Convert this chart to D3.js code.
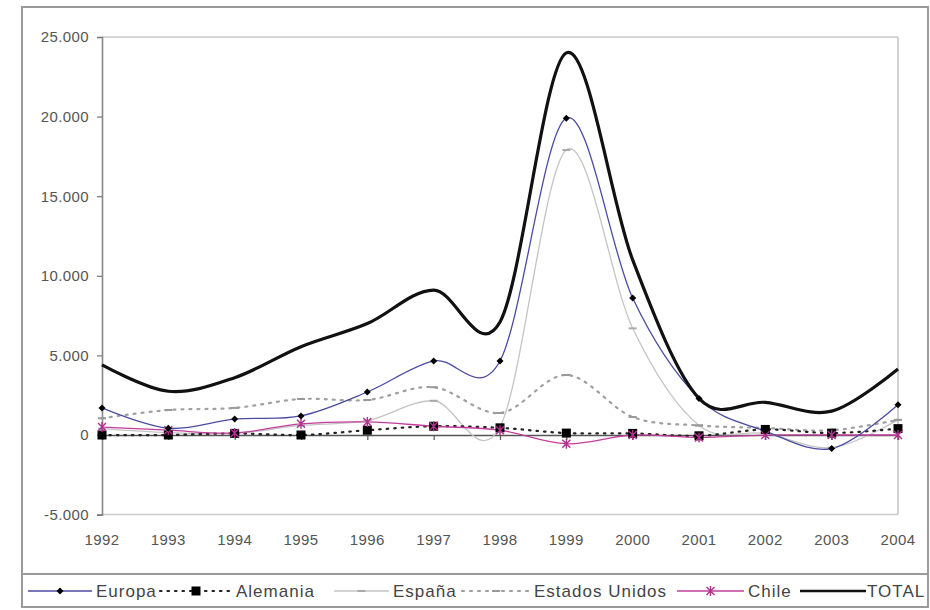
<!DOCTYPE html>
<html><head><meta charset="utf-8">
<script src="https://cdn.jsdelivr.net/npm/d3@7"></script>
<style>
html,body{margin:0;padding:0;background:#fff;}
svg{display:block;}
text{font-family:"Liberation Sans",Arial,sans-serif;}
</style></head>
<body>
<svg id="chart" width="930" height="610"></svg>
<script>
const years = [1992,1993,1994,1995,1996,1997,1998,1999,2000,2001,2002,2003,2004];
const europa   = [1700, 420, 1000, 1200, 2700, 4650, 4650, 19900, 8600, 2300, 250, -850, 1900];
const alemania = [0, 0, 100, 0, 300, 550, 450, 120, 100, -50, 350, 120, 400];
const espana   = [400, 150, 100, 600, 900, 2150, 500, 17900, 6700, 600, 100, -800, 950];
const eeuu     = [1050, 1570, 1700, 2260, 2200, 3000, 1380, 3770, 1130, 600, 440, 300, 950];
const chile    = [500, 300, 130, 700, 820, 550, 300, -550, 0, -150, 0, 0, 0];
const total    = [4400, 2750, 3600, 5550, 7000, 9100, 7100, 24000, 11000, 2300, 2050, 1500, 4150];
const yTicks   = [-5000, 0, 5000, 10000, 15000, 20000, 25000];
const seriesNames = ["Europa","Alemania","España","Estados Unidos","Chile","TOTAL"];

const series = [
  {name: seriesNames[0], values: europa,   color:"#4b4ba0", width:1.3, dash:null,  marker:"diamond", mcolor:"#000"},
  {name: seriesNames[1], values: alemania, color:"#222",    width:2.2, dash:"1.5,6", marker:"square", mcolor:"#000"},
  {name: seriesNames[2], values: espana,   color:"#c4c4c4", width:1.3, dash:null,  marker:"dash", mcolor:"#aaa"},
  {name: seriesNames[3], values: eeuu,     color:"#a0a0a0", width:2.2, dash:"2,6", marker:"dash", mcolor:"#999"},
  {name: seriesNames[4], values: chile,    color:"#c43c9c", width:1.3, dash:null,  marker:"star", mcolor:"#b03090"},
  {name: seriesNames[5], values: total,    color:"#111",    width:3.2, dash:null,  marker:null, mcolor:null}
];

const svg = d3.select("#chart");
const loc = d3.formatLocale({decimal:",", thousands:".", grouping:[3], currency:["",""], minus:"-"});
const fmt = loc.format(",");

const x = d3.scalePoint().domain(years).range([102, 898]);
const y = d3.scaleLinear().domain([-5000, 25000]).range([514.6, 37]);

// outer frame
svg.append("rect").attr("x",22).attr("y",7).attr("width",906).attr("height",600)
  .attr("fill","#fff").attr("stroke","#9a9a9a").attr("stroke-width",2);
svg.append("line").attr("x1",22).attr("x2",928).attr("y1",574).attr("y2",574)
  .attr("stroke","#9a9a9a").attr("stroke-width",2);

// plot frame
svg.append("line").attr("x1",102).attr("x2",898).attr("y1",y(25000)).attr("y2",y(25000)).attr("stroke","#c8c8c8").attr("stroke-width",1.5);
svg.append("line").attr("x1",898).attr("x2",898).attr("y1",y(25000)).attr("y2",y(-5000)).attr("stroke","#c0c0c0").attr("stroke-width",1.5);
svg.append("line").attr("x1",102).attr("x2",898).attr("y1",y(-5000)).attr("y2",y(-5000)).attr("stroke","#d0cccc").attr("stroke-width",1.5);

// y axis
const yAxis = svg.append("g").attr("transform","translate(102,0)")
  .call(d3.axisLeft(y).tickValues(yTicks).tickFormat(fmt).tickSize(5).tickPadding(8));
yAxis.select(".domain").attr("stroke","#888").attr("stroke-width",1.6);
yAxis.selectAll(".tick line").attr("stroke","#777").attr("stroke-width",1.2);
yAxis.selectAll("text").attr("fill","#555").style("font-size","15px").style("letter-spacing","0.4px")
  .style("font-family","Liberation Sans, Arial, sans-serif");

// zero axis
const xAxis = svg.append("g").attr("transform",`translate(0,${y(0)})`)
  .call(d3.axisBottom(x).tickSize(5).tickFormat(""));
xAxis.select(".domain").attr("stroke","#555").attr("stroke-width",1.4);
xAxis.selectAll(".tick line").attr("stroke","#555").attr("stroke-width",1.2);

// year labels at bottom
svg.append("g").selectAll("text").data(years).join("text")
  .attr("x", d => x(d)).attr("y", 545).attr("text-anchor","middle")
  .attr("fill","#555").style("font-size","15px").style("letter-spacing","0.4px")
  .text(d => d);

// lines
const line = d3.line().x((d,i) => x(years[i])).y(d => y(d)).curve(d3.curveCardinal.tension(0));
const drawOrder = [2,3,1,4,0,5];
drawOrder.forEach(k => {
  const s = series[k];
  svg.append("path").datum(s.values).attr("d", line)
    .attr("fill","none").attr("stroke", s.color).attr("stroke-width", s.width)
    .attr("stroke-linecap", s.dash ? "round" : "butt").attr("stroke-linejoin","round")
    .attr("stroke-dasharray", s.dash);
});

function marker(g, type, cx, cy, col) {
  if (type === "diamond") {
    g.append("path").attr("d", `M${cx},${cy-3.5}L${cx+3.5},${cy}L${cx},${cy+3.5}L${cx-3.5},${cy}Z`).attr("fill", col);
  } else if (type === "square") {
    g.append("rect").attr("x", cx-4.5).attr("y", cy-4.5).attr("width", 9).attr("height", 9).attr("fill", col);
  } else if (type === "dash") {
    g.append("line").attr("x1", cx-4).attr("x2", cx+4).attr("y1", cy).attr("y2", cy).attr("stroke", col).attr("stroke-width", 2);
  } else if (type === "star") {
    g.append("path").attr("d", `M${cx-4},${cy-4}L${cx+4},${cy+4}M${cx-4},${cy+4}L${cx+4},${cy-4}M${cx},${cy-5}L${cx},${cy+5}`)
      .attr("stroke", col).attr("stroke-width", 1.4).attr("fill","none");
  }
}
const mg = svg.append("g");
[2,3,1,4,0].forEach(k => {
  const s = series[k];
  s.values.forEach((v,i) => marker(mg, s.marker, x(years[i]), y(v), s.mcolor));
});

// legend
const legendPos = [
  {x1:28,  x2:92,  tx:96},
  {x1:160, x2:232, tx:236},
  {x1:334, x2:389, tx:393},
  {x1:462, x2:530, tx:534},
  {x1:677, x2:744, tx:748},
  {x1:800, x2:866, tx:867}
];
const lg = svg.append("g");
series.forEach((s,i) => {
  const p = legendPos[i];
  const ly = 591;
  lg.append("line").attr("x1",p.x1).attr("x2",p.x2).attr("y1",ly).attr("y2",ly)
    .attr("stroke", s.color).attr("stroke-width", Math.min(s.width, 2.6))
    .attr("stroke-dasharray", s.dash).attr("stroke-linecap", s.dash ? "round" : "butt");
  if (s.marker) marker(lg, s.marker, (p.x1+p.x2)/2, ly, s.mcolor);
  lg.append("text").attr("x", p.tx).attr("y", ly+6).attr("fill","#444")
    .style("font-size","17px").style("letter-spacing","1px").text(s.name);
});
</script>
</body></html>
